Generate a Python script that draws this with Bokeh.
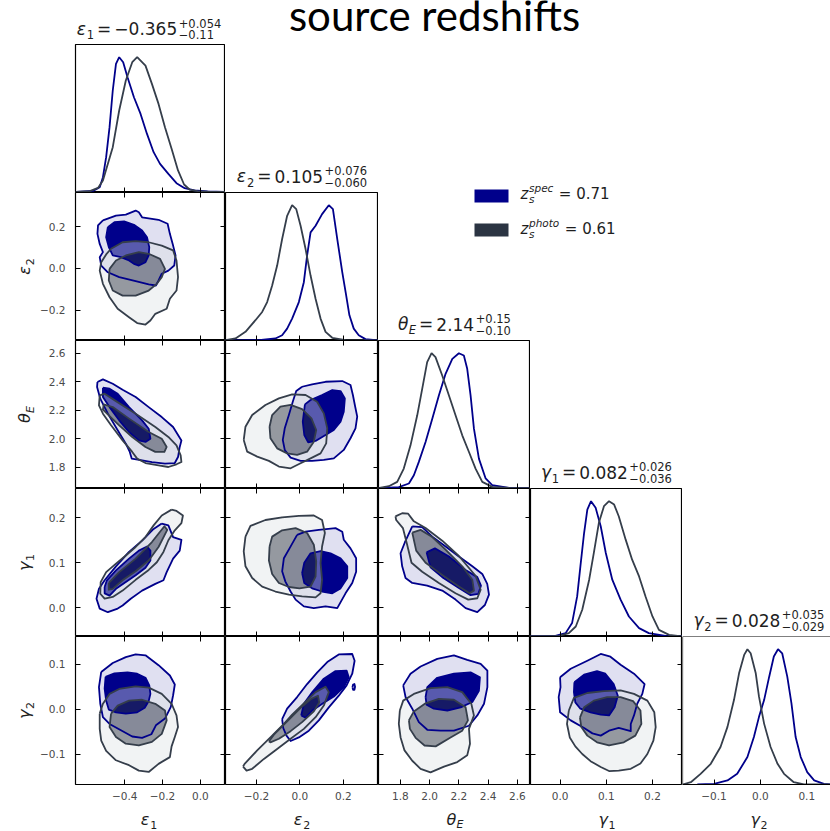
import math
from bokeh.plotting import figure
from bokeh.models import Range1d, LinearAxis, FixedTicker, CustomJSTickFormatter, Label
from bokeh.layouts import row, column
from bokeh.embed import file_html
from bokeh.resources import INLINE

# ---------------- data ----------------
param_symbols = ["ε", "ε", "θ", "γ", "γ"]
param_subs = ["1", "2", "E", "1", "2"]
param_values = ["−0.365", "0.105", "2.14", "0.082", "0.028"]
param_plus = ["+0.054", "+0.076", "+0.15", "+0.026", "+0.035"]
param_minus = ["−0.11", "−0.060", "−0.10", "−0.036", "−0.029"]

eps1_range = (-0.66, 0.133)
eps2_range = (-0.343, 0.362)
thetaE_range = (1.65, 2.69)
gamma1_range = (-0.064, 0.265)
gamma2_range = (-0.168, 0.162)

eps1_ticks = [-0.4, -0.2, 0.0]
eps2_ticks = [-0.2, 0.0, 0.2]
thetaE_ticks = [1.8, 2.0, 2.2, 2.4, 2.6]
gamma1_ticks = [0.0, 0.1, 0.2]
gamma2_ticks = [-0.1, 0.0, 0.1]

legend_names = ["spec", "photo"]
legend_values = ["0.71", "0.61"]
chart_title = "source redshifts"

# 1D marginals (x, relative density)
e1_spec_curve = [(-0.657,0.005),(-0.567,0.012),(-0.532,0.039),(-0.515,0.113),(-0.498,0.261),(-0.480,0.483),(-0.463,0.754),(-0.446,0.951),(-0.429,1.0),(-0.408,0.963),(-0.385,0.852),(-0.351,0.704),(-0.316,0.581),(-0.282,0.433),(-0.247,0.298),(-0.213,0.212),(-0.169,0.138),(-0.126,0.069),(-0.083,0.032),(-0.031,0.015),(0.038,0.008),(0.133,0.005)]
e1_photo_curve = [(-0.657,0.005),(-0.584,0.010),(-0.541,0.034),(-0.515,0.089),(-0.463,0.335),(-0.429,0.606),(-0.394,0.828),(-0.360,0.963),(-0.334,1.0),(-0.290,0.938),(-0.256,0.803),(-0.221,0.655),(-0.187,0.483),(-0.152,0.323),(-0.118,0.163),(-0.086,0.059),(-0.057,0.022),(-0.014,0.010),(0.055,0.005),(0.133,0.005)]
e2_spec_curve = [(-0.343,0.0),(-0.189,0.002),(-0.113,0.015),(-0.082,0.039),(-0.059,0.088),(-0.036,0.162),(-0.005,0.284),(0.018,0.431),(0.033,0.627),(0.049,0.799),(0.072,0.848),(0.102,0.934),(0.133,1.0),(0.152,0.971),(0.172,0.750),(0.195,0.505),(0.213,0.333),(0.228,0.186),(0.248,0.088),(0.271,0.039),(0.302,0.010),(0.362,0.0)]
e2_photo_curve = [(-0.343,0.002),(-0.297,0.015),(-0.251,0.064),(-0.205,0.150),(-0.174,0.211),(-0.151,0.284),(-0.128,0.407),(-0.105,0.554),(-0.082,0.750),(-0.059,0.922),(-0.036,1.0),(-0.017,0.971),(0.003,0.848),(0.026,0.676),(0.049,0.480),(0.072,0.309),(0.095,0.162),(0.118,0.064),(0.149,0.020),(0.210,0.002),(0.362,0.0)]
tE_spec_curve = [(1.657,0.002),(1.789,0.010),(1.858,0.037),(1.892,0.098),(1.926,0.197),(1.972,0.344),(2.018,0.516),(2.063,0.688),(2.109,0.848),(2.155,0.958),(2.200,1.0),(2.234,0.983),(2.257,0.885),(2.280,0.688),(2.303,0.442),(2.337,0.221),(2.383,0.074),(2.428,0.025),(2.543,0.005),(2.680,0.002)]
tE_photo_curve = [(1.657,0.005),(1.721,0.017),(1.778,0.049),(1.823,0.147),(1.869,0.319),(1.915,0.541),(1.949,0.737),(1.983,0.934),(2.013,1.0),(2.040,0.971),(2.086,0.835),(2.132,0.688),(2.177,0.541),(2.223,0.393),(2.269,0.270),(2.314,0.147),(2.360,0.049),(2.428,0.012),(2.543,0.005),(2.680,0.002)]
g1_spec_curve = [(-0.064,0.002),(-0.010,0.005),(0.012,0.025),(0.026,0.099),(0.037,0.296),(0.044,0.519),(0.052,0.765),(0.059,0.938),(0.067,1.0),(0.077,0.951),(0.088,0.815),(0.099,0.617),(0.113,0.420),(0.131,0.272),(0.149,0.148),(0.171,0.062),(0.192,0.025),(0.228,0.005),(0.265,0.0)]
g1_photo_curve = [(-0.064,0.002),(-0.002,0.005),(0.019,0.025),(0.034,0.074),(0.048,0.198),(0.063,0.420),(0.073,0.617),(0.084,0.840),(0.095,0.963),(0.106,1.0),(0.117,0.975),(0.127,0.889),(0.142,0.716),(0.156,0.568),(0.171,0.444),(0.185,0.296),(0.200,0.148),(0.214,0.049),(0.236,0.012),(0.265,0.0)]
g2_spec_curve = [(-0.136,0.0),(-0.100,0.005),(-0.071,0.030),(-0.050,0.079),(-0.028,0.203),(-0.014,0.351),(-0.003,0.500),(0.008,0.624),(0.019,0.797),(0.029,0.946),(0.038,1.0),(0.047,0.970),(0.058,0.797),(0.067,0.599),(0.076,0.351),(0.087,0.203),(0.101,0.092),(0.116,0.030),(0.137,0.005),(0.151,0.0)]
g2_photo_curve = [(-0.168,0.0),(-0.150,0.017),(-0.129,0.079),(-0.107,0.153),(-0.086,0.277),(-0.071,0.426),(-0.057,0.624),(-0.046,0.822),(-0.035,0.958),(-0.028,1.0),(-0.021,0.970),(-0.010,0.822),(-0.003,0.649),(0.008,0.450),(0.022,0.277),(0.037,0.153),(0.051,0.079),(0.072,0.017),(0.094,0.0),(0.151,0.0)]

# 2D credible contours (outer = 95%, inner = 68%)
e1e2_spec_outer = [(-0.515,0.229),(-0.446,0.252),(-0.394,0.257),(-0.342,0.276),(-0.325,0.268),(-0.308,0.244),(-0.221,0.232),(-0.173,0.213),(-0.161,0.165),(-0.144,0.109),(-0.131,0.062),(-0.138,0.014),(-0.169,-0.010),(-0.204,-0.025),(-0.221,-0.057),(-0.235,-0.081),(-0.273,-0.076),(-0.342,-0.060),(-0.429,-0.041),(-0.489,-0.018),(-0.524,0.014),(-0.532,0.054),(-0.515,0.078),(-0.532,0.117),(-0.544,0.165),(-0.541,0.205)]
e1e2_spec_inner = [(-0.489,0.197),(-0.454,0.221),(-0.403,0.224),(-0.351,0.208),(-0.308,0.181),(-0.282,0.149),(-0.270,0.102),(-0.273,0.062),(-0.290,0.030),(-0.325,0.014),(-0.351,0.022),(-0.377,0.038),(-0.420,0.054),(-0.463,0.062),(-0.484,0.102),(-0.498,0.149)]
e1e2_photo_outer = [(-0.472,0.094),(-0.411,0.125),(-0.342,0.130),(-0.273,0.125),(-0.204,0.109),(-0.144,0.086),(-0.126,0.038),(-0.118,-0.041),(-0.126,-0.105),(-0.161,-0.144),(-0.178,-0.192),(-0.238,-0.216),(-0.264,-0.248),(-0.290,-0.267),(-0.334,-0.260),(-0.377,-0.232),(-0.437,-0.192),(-0.480,-0.137),(-0.515,-0.073),(-0.532,-0.010),(-0.524,0.030),(-0.498,0.067)]
e1e2_photo_inner = [(-0.480,-0.002),(-0.446,0.038),(-0.394,0.062),(-0.325,0.078),(-0.273,0.070),(-0.213,0.046),(-0.187,-0.002),(-0.204,-0.041),(-0.230,-0.073),(-0.273,-0.105),(-0.342,-0.129),(-0.411,-0.129),(-0.463,-0.105),(-0.484,-0.057)]

e1tE_spec_outer = [(-0.544,2.398),(-0.515,2.417),(-0.463,2.386),(-0.411,2.344),(-0.342,2.293),(-0.273,2.222),(-0.204,2.152),(-0.144,2.082),(-0.100,1.988),(-0.109,1.942),(-0.118,1.871),(-0.135,1.829),(-0.187,1.825),(-0.256,1.836),(-0.308,1.848),(-0.363,1.860),(-0.373,1.907),(-0.394,1.965),(-0.437,2.059),(-0.489,2.176),(-0.529,2.281),(-0.546,2.363)]
e1tE_spec_inner = [(-0.515,2.358),(-0.480,2.351),(-0.437,2.316),(-0.377,2.222),(-0.308,2.129),(-0.273,2.070),(-0.264,2.000),(-0.290,1.977),(-0.325,1.988),(-0.377,2.047),(-0.429,2.129),(-0.480,2.222),(-0.515,2.293)]
e1tE_photo_outer = [(-0.532,2.304),(-0.506,2.316),(-0.446,2.264),(-0.342,2.176),(-0.238,2.082),(-0.169,2.012),(-0.126,1.953),(-0.104,1.883),(-0.100,1.836),(-0.126,1.820),(-0.169,1.801),(-0.221,1.813),(-0.290,1.829),(-0.334,1.860),(-0.360,1.907),(-0.411,1.988),(-0.472,2.094),(-0.515,2.176),(-0.536,2.234)]
e1tE_photo_inner = [(-0.511,2.241),(-0.463,2.222),(-0.377,2.141),(-0.273,2.047),(-0.204,2.000),(-0.178,1.942),(-0.190,1.907),(-0.238,1.907),(-0.290,1.942),(-0.360,2.012),(-0.429,2.094),(-0.484,2.164),(-0.515,2.204)]

e1g1_spec_outer = [(-0.204,0.187),(-0.169,0.183),(-0.144,0.157),(-0.100,0.151),(-0.109,0.127),(-0.144,0.109),(-0.178,0.079),(-0.195,0.061),(-0.238,0.053),(-0.308,0.038),(-0.368,0.020),(-0.411,0.005),(-0.437,-0.002),(-0.489,-0.010),(-0.532,-0.002),(-0.549,0.020),(-0.536,0.042),(-0.506,0.061),(-0.446,0.092),(-0.377,0.124),(-0.308,0.149),(-0.247,0.175)]
e1g1_spec_inner = [(-0.506,0.046),(-0.494,0.061),(-0.446,0.083),(-0.377,0.109),(-0.325,0.127),(-0.282,0.136),(-0.264,0.127),(-0.264,0.105),(-0.290,0.089),(-0.342,0.072),(-0.394,0.057),(-0.446,0.042),(-0.480,0.027),(-0.506,0.032)]
e1g1_photo_outer = [(-0.152,0.218),(-0.126,0.215),(-0.092,0.205),(-0.100,0.188),(-0.135,0.172),(-0.169,0.150),(-0.195,0.124),(-0.230,0.101),(-0.273,0.084),(-0.342,0.062),(-0.411,0.038),(-0.463,0.024),(-0.506,0.020),(-0.529,0.031),(-0.527,0.057),(-0.498,0.079),(-0.446,0.098),(-0.394,0.116),(-0.342,0.135),(-0.290,0.157),(-0.247,0.183),(-0.204,0.205)]
e1g1_photo_inner = [(-0.484,0.055),(-0.429,0.079),(-0.342,0.109),(-0.256,0.146),(-0.190,0.181),(-0.175,0.173),(-0.221,0.135),(-0.273,0.105),(-0.342,0.081),(-0.411,0.061),(-0.463,0.042),(-0.484,0.040)]

e1g2_spec_outer = [(-0.524,0.083),(-0.463,0.103),(-0.394,0.116),(-0.342,0.122),(-0.290,0.120),(-0.221,0.098),(-0.161,0.075),(-0.135,0.055),(-0.144,0.031),(-0.156,0.005),(-0.187,-0.021),(-0.235,-0.036),(-0.259,-0.056),(-0.308,-0.064),(-0.360,-0.061),(-0.420,-0.047),(-0.480,-0.033),(-0.515,-0.018),(-0.529,0.012),(-0.536,0.049)]
e1g2_spec_inner = [(-0.501,0.072),(-0.454,0.080),(-0.385,0.082),(-0.334,0.079),(-0.290,0.070),(-0.270,0.053),(-0.264,0.034),(-0.273,0.018),(-0.294,0.003),(-0.334,-0.007),(-0.394,-0.010),(-0.446,-0.007),(-0.484,-0.001),(-0.498,0.019),(-0.506,0.046)]
e1g2_photo_outer = [(-0.532,-0.010),(-0.515,0.012),(-0.480,0.034),(-0.429,0.045),(-0.342,0.051),(-0.273,0.048),(-0.204,0.034),(-0.152,0.012),(-0.126,-0.014),(-0.118,-0.040),(-0.135,-0.062),(-0.152,-0.083),(-0.161,-0.107),(-0.221,-0.122),(-0.273,-0.140),(-0.325,-0.137),(-0.377,-0.125),(-0.446,-0.114),(-0.498,-0.093),(-0.524,-0.070),(-0.532,-0.044)]
e1g2_photo_inner = [(-0.472,-0.010),(-0.437,0.008),(-0.377,0.019),(-0.308,0.021),(-0.238,0.012),(-0.187,-0.003),(-0.178,-0.025),(-0.204,-0.055),(-0.256,-0.073),(-0.325,-0.081),(-0.394,-0.077),(-0.446,-0.062),(-0.480,-0.040)]

e2tE_spec_outer = [(0.010,2.365),(0.056,2.382),(0.118,2.400),(0.195,2.405),(0.233,2.377),(0.244,2.307),(0.253,2.237),(0.264,2.155),(0.256,2.073),(0.233,2.003),(0.202,1.921),(0.156,1.862),(0.110,1.851),(0.056,1.844),(0.003,1.844),(-0.043,1.867),(-0.070,1.921),(-0.079,1.991),(-0.070,2.073),(-0.051,2.166),(-0.033,2.260),(-0.017,2.335)]
e2tE_spec_inner = [(0.023,2.241),(0.049,2.272),(0.102,2.307),(0.149,2.342),(0.187,2.335),(0.207,2.283),(0.202,2.190),(0.187,2.119),(0.156,2.061),(0.118,2.026),(0.072,1.984),(0.038,1.975),(0.020,2.026),(0.013,2.119)]
e2tE_photo_outer = [(-0.259,1.991),(-0.251,2.084),(-0.220,2.166),(-0.159,2.237),(-0.097,2.283),(-0.036,2.311),(0.026,2.307),(0.079,2.260),(0.110,2.178),(0.126,2.073),(0.121,1.967),(0.095,1.897),(0.049,1.862),(0.003,1.827),(-0.043,1.792),(-0.097,1.804),(-0.143,1.844),(-0.197,1.874),(-0.243,1.909)]
e2tE_photo_inner = [(-0.140,2.084),(-0.128,2.166),(-0.090,2.225),(-0.043,2.237),(0.010,2.208),(0.053,2.143),(0.075,2.061),(0.064,1.979),(0.033,1.909),(-0.013,1.886),(-0.059,1.897),(-0.105,1.932),(-0.136,2.003)]

e2g1_spec_outer = [(-0.013,0.162),(0.026,0.169),(0.087,0.173),(0.164,0.177),(0.195,0.169),(0.202,0.151),(0.233,0.132),(0.259,0.110),(0.259,0.080),(0.241,0.055),(0.210,0.032),(0.172,-0.001),(0.118,0.003),(0.064,-0.001),(0.018,0.003),(-0.020,0.018),(-0.043,0.036),(-0.067,0.058),(-0.082,0.081),(-0.074,0.110),(-0.048,0.132)]
e2g1_spec_inner = [(0.010,0.077),(0.020,0.100),(0.049,0.121),(0.095,0.126),(0.141,0.121),(0.187,0.110),(0.218,0.092),(0.218,0.066),(0.187,0.043),(0.149,0.032),(0.102,0.036),(0.056,0.043),(0.020,0.055)]
e2g1_photo_outer = [(-0.251,0.158),(-0.228,0.182),(-0.159,0.195),(-0.082,0.201),(-0.005,0.204),(0.064,0.205),(0.102,0.195),(0.115,0.166),(0.102,0.136),(0.095,0.099),(0.102,0.062),(0.095,0.032),(0.072,0.023),(0.010,0.025),(-0.051,0.029),(-0.113,0.036),(-0.174,0.047),(-0.220,0.066),(-0.251,0.092),(-0.259,0.125)]
e2g1_photo_inner = [(-0.140,0.136),(-0.128,0.158),(-0.082,0.172),(-0.020,0.177),(0.033,0.166),(0.064,0.140),(0.075,0.103),(0.072,0.069),(0.049,0.047),(-0.002,0.043),(-0.051,0.046),(-0.097,0.055),(-0.128,0.075),(-0.143,0.105)]

e2g2_spec_outer = [(-0.082,-0.022),(-0.059,0.001),(-0.013,0.027),(0.033,0.056),(0.080,0.082),(0.126,0.105),(0.179,0.122),(0.241,0.123),(0.252,0.108),(0.241,0.079),(0.215,0.053),(0.179,0.030),(0.133,0.004),(0.087,-0.025),(0.041,-0.048),(-0.005,-0.063),(-0.043,-0.071),(-0.062,-0.059),(-0.077,-0.042)]
e2g2_spec_blob = [(0.242,0.049),(0.245,0.055),(0.251,0.056),(0.254,0.050),(0.251,0.043),(0.245,0.043)]
e2g2_spec_inner = [(0.006,-0.014),(0.018,0.012),(0.057,0.038),(0.110,0.068),(0.164,0.085),(0.215,0.086),(0.225,0.071),(0.202,0.049),(0.156,0.028),(0.103,0.012),(0.057,-0.003),(0.026,-0.019)]
e2g2_photo_outer = [(-0.262,-0.128),(-0.255,-0.122),(-0.197,-0.092),(-0.136,-0.063),(-0.082,-0.037),(-0.036,-0.012),(0.018,0.013),(0.072,0.038),(0.118,0.050),(0.133,0.038),(0.110,0.008),(0.072,-0.018),(0.018,-0.044),(-0.043,-0.066),(-0.105,-0.089),(-0.166,-0.111),(-0.220,-0.133),(-0.246,-0.137)]
e2g2_photo_inner = [(-0.143,-0.072),(-0.120,-0.057),(-0.059,-0.027),(0.003,0.003),(0.052,0.023),(0.083,0.030),(0.089,0.015),(0.064,-0.005),(0.010,-0.029),(-0.043,-0.049),(-0.097,-0.066),(-0.136,-0.074)]

tEg1_spec_outer = [(1.881,0.181),(1.949,0.179),(2.018,0.158),(2.109,0.136),(2.200,0.114),(2.292,0.092),(2.360,0.075),(2.394,0.053),(2.406,0.029),(2.378,0.006),(2.326,-0.010),(2.246,-0.001),(2.177,0.018),(2.086,0.038),(1.983,0.049),(1.881,0.055),(1.835,0.066),(1.812,0.092),(1.801,0.121),(1.830,0.145)]
tEg1_spec_inner = [(1.979,0.123),(2.036,0.132),(2.132,0.114),(2.246,0.084),(2.326,0.068),(2.351,0.049),(2.333,0.031),(2.280,0.028),(2.200,0.044),(2.086,0.068),(2.006,0.090)]
tEg1_photo_outer = [(1.766,0.203),(1.812,0.210),(1.853,0.209),(1.892,0.192),(1.972,0.177),(2.086,0.149),(2.200,0.115),(2.314,0.071),(2.349,0.040),(2.326,0.021),(2.264,0.018),(2.177,0.032),(2.063,0.055),(1.949,0.080),(1.876,0.100),(1.846,0.140),(1.817,0.177),(1.771,0.195)]
tEg1_photo_inner = [(1.881,0.167),(1.938,0.173),(2.018,0.157),(2.109,0.129),(2.223,0.092),(2.292,0.062),(2.303,0.038),(2.273,0.032),(2.200,0.047),(2.086,0.073),(1.972,0.100),(1.908,0.127)]

tEg2_spec_outer = [(1.819,0.053),(1.869,0.079),(1.938,0.095),(2.052,0.112),(2.166,0.120),(2.257,0.110),(2.349,0.101),(2.395,0.086),(2.395,0.049),(2.372,0.012),(2.326,-0.014),(2.269,-0.037),(2.166,-0.048),(2.075,-0.048),(1.984,-0.046),(1.926,-0.029),(1.881,0.001),(1.835,0.027)]
tEg2_spec_inner = [(1.972,0.027),(1.984,0.049),(2.052,0.070),(2.166,0.079),(2.280,0.082),(2.344,0.071),(2.337,0.041),(2.292,0.016),(2.212,0.004),(2.121,-0.003),(2.029,0.001),(1.979,0.010)]
tEg2_photo_outer = [(1.796,-0.003),(1.819,0.019),(1.892,0.034),(2.006,0.047),(2.121,0.049),(2.223,0.038),(2.285,0.012),(2.303,-0.014),(2.269,-0.044),(2.276,-0.077),(2.257,-0.103),(2.189,-0.118),(2.098,-0.128),(2.006,-0.141),(1.938,-0.133),(1.881,-0.115),(1.828,-0.092),(1.801,-0.063),(1.789,-0.033)]
tEg2_photo_inner = [(1.858,-0.025),(1.892,-0.005),(1.972,0.013),(2.063,0.023),(2.166,0.021),(2.246,0.004),(2.262,-0.025),(2.223,-0.048),(2.143,-0.063),(2.041,-0.083),(1.965,-0.081),(1.904,-0.064),(1.865,-0.044)]

g1g2_spec_outer = [(0.000,0.071),(0.023,0.090),(0.059,0.108),(0.088,0.123),(0.109,0.117),(0.131,0.099),(0.160,0.079),(0.183,0.056),(0.178,0.034),(0.167,0.012),(0.160,-0.014),(0.153,-0.033),(0.153,-0.049),(0.127,-0.042),(0.106,-0.048),(0.088,-0.059),(0.070,-0.054),(0.052,-0.042),(0.023,-0.025),(0.000,-0.007),(-0.003,0.027),(0.001,0.049)]
g1g2_spec_inner = [(0.031,0.060),(0.052,0.077),(0.080,0.085),(0.098,0.079),(0.116,0.056),(0.125,0.030),(0.118,0.004),(0.106,-0.014),(0.088,-0.012),(0.066,-0.007),(0.044,0.001),(0.033,0.015),(0.030,0.038)]
g1g2_photo_outer = [(0.019,-0.003),(0.030,0.025),(0.059,0.036),(0.095,0.040),(0.131,0.042),(0.160,0.034),(0.189,0.019),(0.204,-0.007),(0.207,-0.040),(0.202,-0.070),(0.189,-0.100),(0.174,-0.121),(0.153,-0.133),(0.127,-0.137),(0.106,-0.138),(0.088,-0.129),(0.066,-0.116),(0.048,-0.100),(0.033,-0.083),(0.021,-0.063),(0.015,-0.033)]
g1g2_photo_inner = [(0.043,-0.019),(0.052,0.004),(0.073,0.019),(0.102,0.027),(0.131,0.027),(0.158,0.018),(0.174,-0.003),(0.176,-0.033),(0.163,-0.059),(0.138,-0.074),(0.106,-0.081),(0.080,-0.074),(0.059,-0.059),(0.046,-0.040)]

# ---------------- styling / layout ----------------
SPEC = "#00008b"
PHOTO = "#2b3442"
PHOTO_LINE = "#353e4b"
PHOTO_LIGHT = "#dde1e4"
TEXT = "#1e1e1e"
TICK_TEXT = "#4a4a4a"
FONT = "DejaVu Sans"
K_DEJAVU = 0.346   # distance (em) from the text anchor down to the baseline
K_LATO = 0.387
COL_W = [153, 153, 152, 152, 148]
FULL_W = 153
ROW_H = 148
LSTRIP = 37        # strip holding the rotated y-axis titles
LEFT = 35          # tick-label border of the first column
BOTTOM = 24        # tick-label border of the last row
BSTRIP = 23        # strip holding the x-axis titles
HEADER = 44
DIAG_TOP = 1.094

ranges = [eps1_range, eps2_range, thetaE_range, gamma1_range, gamma2_range]
tick_sets = [eps1_ticks, eps2_ticks, thetaE_ticks, gamma1_ticks, gamma2_ticks]
marginals = {
    0: (e1_spec_curve, e1_photo_curve),
    1: (e2_spec_curve, e2_photo_curve),
    2: (tE_spec_curve, tE_photo_curve),
    3: (g1_spec_curve, g1_photo_curve),
    4: (g2_spec_curve, g2_photo_curve),
}
contours = {
    (1, 0): (e1e2_spec_outer, e1e2_spec_inner, e1e2_photo_outer, e1e2_photo_inner, []),
    (2, 0): (e1tE_spec_outer, e1tE_spec_inner, e1tE_photo_outer, e1tE_photo_inner, []),
    (3, 0): (e1g1_spec_outer, e1g1_spec_inner, e1g1_photo_outer, e1g1_photo_inner, []),
    (4, 0): (e1g2_spec_outer, e1g2_spec_inner, e1g2_photo_outer, e1g2_photo_inner, []),
    (2, 1): (e2tE_spec_outer, e2tE_spec_inner, e2tE_photo_outer, e2tE_photo_inner, []),
    (3, 1): (e2g1_spec_outer, e2g1_spec_inner, e2g1_photo_outer, e2g1_photo_inner, []),
    (4, 1): (e2g2_spec_outer, e2g2_spec_inner, e2g2_photo_outer, e2g2_photo_inner, [e2g2_spec_blob]),
    (3, 2): (tEg1_spec_outer, tEg1_spec_inner, tEg1_photo_outer, tEg1_photo_inner, []),
    (4, 2): (tEg2_spec_outer, tEg2_spec_inner, tEg2_photo_outer, tEg2_photo_inner, []),
    (4, 3): (g1g2_spec_outer, g1g2_spec_inner, g1g2_photo_outer, g1g2_photo_inner, []),
}

ADV = {"0": .636, "1": .636, "2": .636, "3": .636, "4": .636, "5": .636, "6": .636,
       "7": .636, "8": .636, "9": .636, ".": .318, "−": .838, "+": .838, "=": .838,
       " ": .318, "ε": .56, "θ": .602, "γ": .592, "E": .632, "z": .525, "s": .521,
       "p": .635, "e": .615, "c": .55, "h": .634, "o": .612, "t": .392}


def tw(s, size):
    return sum(ADV.get(ch, 0.6) for ch in s) * size


fmt = CustomJSTickFormatter(code="return tick.toFixed(1).replace('-', '\u2212');")
no_fmt = CustomJSTickFormatter(code="return '';")


def add_axis(p, side, ticks, labeled, fixed=None, line=False):
    ax = LinearAxis(ticker=FixedTicker(ticks=list(ticks)), formatter=fmt if labeled else no_fmt,
                    major_tick_in=5, major_tick_out=0, major_tick_line_color="black",
                    major_tick_line_width=1, minor_tick_line_color=None,
                    axis_line_color="black" if line else None, axis_line_width=1.2,
                    major_label_text_font=FONT, major_label_text_font_size="10.5px",
                    major_label_text_color=TICK_TEXT if labeled else None,
                    major_label_standoff=7 if side == "below" else 10)
    if fixed is not None:
        ax.fixed_location = fixed
    p.add_layout(ax, side)


def put(p, x, base, text, size, italic=False, angle=0.0, font=FONT, k=K_DEJAVU,
        color=TEXT, align="left"):
    """Place text so that its baseline sits at `base` (pixel units of a blank strip)."""
    if angle:
        xa, ya = x - k * size, base
    else:
        xa, ya = x, base + k * size
    p.add_layout(Label(x=xa, y=ya, text=text, text_font=font, text_font_size=f"{size}px",
                       text_font_style="italic" if italic else "normal", text_color=color,
                       text_align=align, text_baseline="alphabetic", angle=angle))


def closed(pts):
    return [q[0] for q in pts] + [pts[0][0]], [q[1] for q in pts] + [pts[0][1]]


def blank(w, h):
    p = figure(width=w, height=h, x_range=Range1d(0, w), y_range=Range1d(0, h),
               output_backend="svg", toolbar_location=None, tools="",
               x_axis_location=None, y_axis_location=None, min_border=0)
    p.outline_line_color = None
    p.xgrid.visible = False
    p.ygrid.visible = False
    return p


def add_title(p, k, cx, base):
    M, S = 17, 11.5
    sym, sub = param_symbols[k], param_subs[k]
    pieces = []
    x = 0.0
    pieces.append((sym, x, 0, M, True)); x += tw(sym, M) + 0.5
    pieces.append((sub, x, -4, S, sub.isalpha())); x += tw(sub, S) + 3
    pieces.append(("=", x, 0, M, False)); x += tw("=", M) + 3
    pieces.append((param_values[k], x, 0, M, False)); x += tw(param_values[k], M) + 1.5
    pieces.append((param_plus[k], x, 7.5, S, False))
    pieces.append((param_minus[k], x, -4, S, False))
    x += max(tw(param_plus[k], S), tw(param_minus[k], S))
    x0 = cx - x / 2
    for (t, dx, dy, s, it) in pieces:
        put(p, x0 + dx, base + dy, t, s, it)


def axis_title(p, k, cx, base, rotated=False):
    sym, sub = param_symbols[k], param_subs[k]
    w_sym = tw(sym, 16)
    total = w_sym + 0.5 + tw(sub, 11)
    start = cx - total / 2
    if rotated:
        put(p, base, start, sym, 16, True, angle=math.pi / 2)
        put(p, base + 4, start + w_sym + 0.5, sub, 11, sub.isalpha(), angle=math.pi / 2)
    else:
        put(p, start, base, sym, 16, True)
        put(p, start + w_sym + 0.5, base - 3.5, sub, 11, sub.isalpha())


def make_panel(i, j):
    xr = ranges[j]
    if j == 4:
        xr = (xr[0], xr[0] + (xr[1] - xr[0]) * COL_W[4] / FULL_W)
    yr = (0, DIAG_TOP) if i == j else ranges[i]
    p = figure(width=COL_W[j] + (LEFT if j == 0 else 0),
               height=ROW_H + (BOTTOM if i == 4 else 0),
               x_range=Range1d(*xr), y_range=Range1d(*yr),
               output_backend="svg", toolbar_location=None, tools="",
               x_axis_location=None, y_axis_location=None,
               min_border_left=LEFT if j == 0 else 0, min_border_right=0,
               min_border_top=0, min_border_bottom=BOTTOM if i == 4 else 0,
               background_fill_color="white", border_fill_color="white")
    p.xgrid.visible = False
    p.ygrid.visible = False
    p.outline_line_color = "black"
    p.outline_line_width = 1.2

    if i == j:
        spec, photo = marginals[i]
        p.line([q[0] for q in spec], [q[1] for q in spec], line_color=SPEC, line_width=1.8)
        p.line([q[0] for q in photo], [q[1] for q in photo], line_color=PHOTO_LINE, line_width=1.8)
        if i == 4:
            p.outline_line_color = None
            add_axis(p, "below", tick_sets[j], True, line=True)
            add_axis(p, "left", [], False, fixed=xr[0], line=True)
            add_axis(p, "above", [], False, fixed=yr[1], line=True)
        else:
            add_axis(p, "below", tick_sets[j], False, fixed=yr[0])
    else:
        so, si, po, pi_, extra = contours[(i, j)]
        sox, soy = closed(so)
        six, siy = closed(si)
        pox, poy = closed(po)
        pix, piy = closed(pi_)
        xs_s = [[sox, six]]
        ys_s = [[soy, siy]]
        ex_lines = []
        for e in extra:
            ex, ey = closed(e)
            xs_s.append([ex]); ys_s.append([ey])
            ex_lines.append((ex, ey))
        p.multi_polygons(xs=[xs_s], ys=[ys_s], fill_color=SPEC, fill_alpha=0.12, line_color=None)
        p.patch(six, siy, fill_color=SPEC, fill_alpha=1.0, line_color=None)
        p.multi_polygons(xs=[[[pox, pix]]], ys=[[[poy, piy]]], fill_color=PHOTO_LIGHT,
                         fill_alpha=0.4, line_color=None)
        p.patch(pix, piy, fill_color=PHOTO, fill_alpha=0.5, line_color=None)
        for (lx, ly) in [(sox, soy), (six, siy)] + ex_lines:
            p.line(lx, ly, line_color=SPEC, line_width=1.8, line_join="round")
        for (lx, ly) in [(pox, poy), (pix, piy)]:
            p.line(lx, ly, line_color=PHOTO_LINE, line_width=1.8, line_join="round")
        add_axis(p, "below", tick_sets[j], i == 4, fixed=None if i == 4 else yr[0])
        add_axis(p, "left", tick_sets[i], j == 0, fixed=None if j == 0 else xr[0])
        add_axis(p, "right", tick_sets[i], False, fixed=xr[1])
        add_axis(p, "above", tick_sets[j], False, fixed=yr[1])
    return p


F = {(i, j): make_panel(i, j) for i in range(5) for j in range(i + 1)}

# header with main title and first marginal title
header = blank(830, HEADER)
put(header, 434, HEADER - 30.5, chart_title, 42, font="Lato", k=K_LATO, color="black",
    align="center")
add_title(header, 0, LSTRIP + LEFT + FULL_W / 2, 10)

b01 = blank(COL_W[1], ROW_H)
add_title(b01, 1, COL_W[1] / 2, 10.5)

bR = blank(COL_W[2] + COL_W[3] + COL_W[4], 2 * ROW_H)
add_title(bR, 2, COL_W[2] / 2, 10.5)
sw_colors = [SPEC, PHOTO]
for n in range(2):
    top = 151 - n * 34
    bR.quad(left=[96], right=[130], bottom=[top - 13], top=[top], fill_color=sw_colors[n],
            line_color=None)
    base = 141.5 - n * 35.5
    put(bR, 142, base, "z", 15, True)
    put(bR, 150.5, base + 7.5, legend_names[n], 10.5, True)
    put(bR, 150.5, base - 3.5, "s", 10.5, True)
    put(bR, 153 + tw(legend_names[n], 10.5) + 3, base, "= " + legend_values[n], 15)

b23 = blank(COL_W[3] + COL_W[4], ROW_H)
add_title(b23, 3, COL_W[3] / 2, 10.5)

b34 = blank(COL_W[4], ROW_H)
add_title(b34, 4, FULL_W / 2, 10.5)

# strips for the axis titles
body_h = 5 * ROW_H + BOTTOM
lstrip = blank(LSTRIP, body_h)
for i in range(1, 5):
    axis_title(lstrip, i, body_h - (ROW_H * i + ROW_H / 2), 29.5, rotated=True)

bstrip = blank(830, BSTRIP)
x_left = LSTRIP + LEFT
for j in range(5):
    cx = x_left + sum(COL_W[:j]) + FULL_W / 2
    axis_title(bstrip, j, cx, 6.5)

col0 = column(F[(0, 0)], F[(1, 0)], F[(2, 0)], F[(3, 0)], F[(4, 0)], spacing=0)
col1 = column(b01, F[(1, 1)], F[(2, 1)], F[(3, 1)], F[(4, 1)], spacing=0)
c34 = row(column(F[(3, 3)], F[(4, 3)], spacing=0), column(b34, F[(4, 4)], spacing=0), spacing=0)
c3 = column(b23, c34, spacing=0)
c2 = row(column(F[(2, 2)], F[(3, 2)], F[(4, 2)], spacing=0), c3, spacing=0)
d = column(bR, c2, spacing=0)
body = row(lstrip, col0, col1, d, spacing=0)
layout = column(header, body, bstrip, spacing=0)

open("out.html", "w").write(file_html(layout, INLINE))
